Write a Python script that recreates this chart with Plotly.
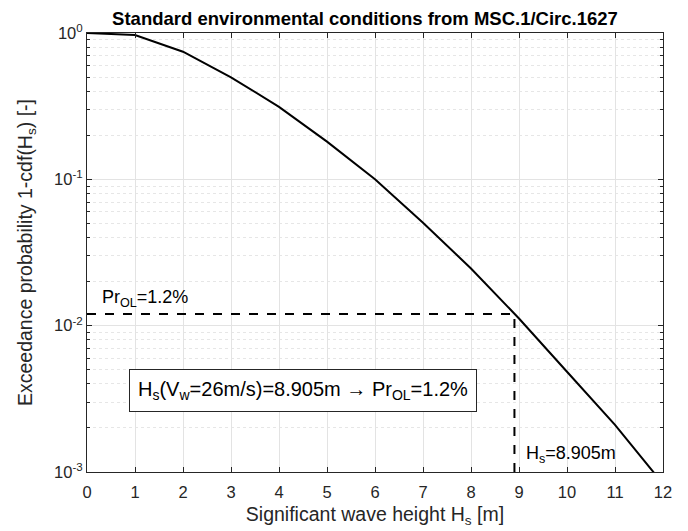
import plotly.graph_objects as go
import math

# Data
hs = [0, 1, 2, 3, 4, 5, 6, 7, 8, 9, 10, 11, 12]
exceed = [1.0, 0.969, 0.745, 0.498, 0.313, 0.181, 0.100, 0.0505, 0.0246, 0.0112, 0.00484, 0.00210, 0.00083]
hs_ol = 8.905
pr_ol = 0.012
y_ticks = [1, 0.1, 0.01, 0.001]
y_ticktext = ["10<sup>0</sup>", "10<sup>-1</sup>", "10<sup>-2</sup>", "10<sup>-3</sup>"]
x_ticks = list(range(0, 13))

FONT = "Arial, Liberation Sans, Helvetica, sans-serif"
AX = "#262626"

fig = go.Figure()
fig.add_trace(go.Scatter(x=hs, y=exceed, mode="lines",
                         line=dict(color="black", width=2), showlegend=False, hoverinfo="skip"))
fig.add_trace(go.Scatter(x=[0, hs_ol], y=[pr_ol, pr_ol], mode="lines",
                         line=dict(color="black", width=2, dash="dash"), showlegend=False))
fig.add_trace(go.Scatter(x=[hs_ol, hs_ol], y=[y_ticks[-1], pr_ol], mode="lines",
                         line=dict(color="black", width=2, dash="dash"), showlegend=False))

# page body has an 8px margin, so the figure is drawn 8px in from the top-left
fig.update_layout(
    width=680, height=523,
    margin=dict(l=79, r=25, t=25, b=59),
    paper_bgcolor="white", plot_bgcolor="white",
    font=dict(family=FONT, color="#262626", size=16.5),
    title=dict(text="<b>Standard environmental conditions from MSC.1/Circ.1627</b>",
               x=0.525, xanchor="center", y=0.979, yanchor="middle",
               font=dict(size=18.5, color="black", family=FONT)),
    xaxis=dict(range=[0, 12], tickvals=x_ticks, ticks="inside", ticklen=5,
               tickcolor=AX, showline=True, linecolor=AX, linewidth=1, mirror="ticks",
               showgrid=True, gridcolor="#e3e3e3", gridwidth=1, zeroline=False,
               automargin=False, ticklabelstandoff=5,
               tickfont=dict(size=16.5, color="#262626"),
               title=dict(text="Significant wave height H<sub>s</sub> [m]",
                          font=dict(size=19.5, color="#262626"), standoff=7)),
    yaxis=dict(type="log", range=[-3, 0], tickvals=y_ticks, ticktext=y_ticktext,
               ticks="inside", ticklen=5, tickcolor=AX, showline=True, linecolor=AX,
               linewidth=1, mirror="ticks", showgrid=True, gridcolor="#e3e3e3", gridwidth=1,
               zeroline=False, automargin=False, tickfont=dict(size=16.5, color="#262626"),
               minor=dict(dtick="D1", ticks="inside", ticklen=3, tickcolor=AX,
                          showgrid=True, gridcolor="#e6e6e6", griddash="dot", gridwidth=1),
               title=dict(text="Exceedance probability 1-cdf(H<sub>s</sub>) [-]",
                          font=dict(size=19.5, color="#262626"), standoff=16)),
)

fig.add_annotation(x=0.27, y=math.log10(pr_ol), xref="x", yref="y",
                   text="Pr<sub>OL</sub>=1.2%", showarrow=False,
                   xanchor="left", yanchor="bottom", yshift=2,
                   font=dict(size=18, color="black"))
fig.add_annotation(x=9.1, y=math.log10(0.00132), xref="x", yref="y",
                   text="H<sub>s</sub>=8.905m", showarrow=False,
                   xanchor="left", yanchor="middle",
                   font=dict(size=18, color="black"))
fig.add_annotation(x=4.5, y=math.log10(0.00363), xref="x", yref="y",
                   text="H<sub>s</sub>(V<sub>w</sub>=26m/s)=8.905m \u2192 Pr<sub>OL</sub>=1.2%",
                   showarrow=False, xanchor="center", yanchor="middle",
                   bgcolor="white", bordercolor="#262626", borderwidth=1, borderpad=8,
                   font=dict(size=20, color="black"))

fig.write_html("out.html")
